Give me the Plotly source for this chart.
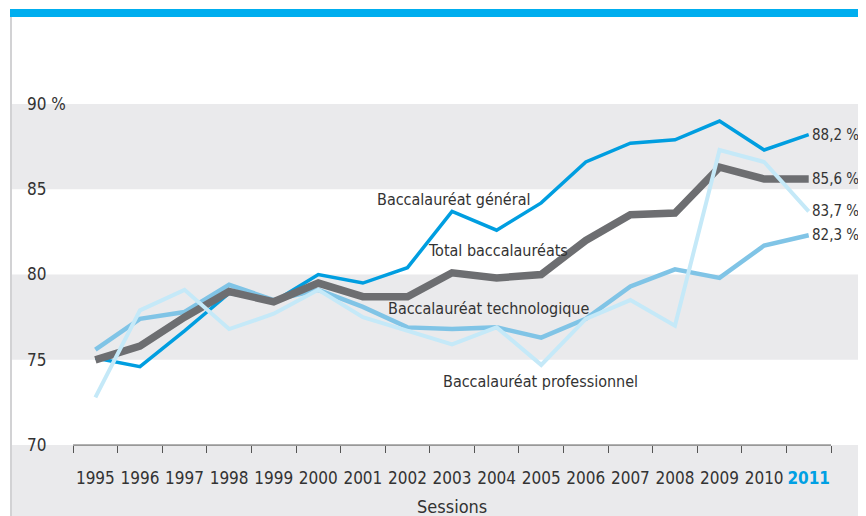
import plotly.graph_objects as go

years = list(range(1995, 2012))
year_labels = [str(y) for y in years[:-1]] + ["<b><span style='color:#00a0e3'>2011</span></b>"]

general = [75.1, 74.6, 76.7, 78.9, 78.4, 80.0, 79.5, 80.4, 83.7, 82.6, 84.2, 86.6, 87.7, 87.9, 89.0, 87.3, 88.2]
techno = [75.6, 77.4, 77.8, 79.4, 78.5, 79.1, 78.1, 76.9, 76.8, 76.9, 76.3, 77.4, 79.3, 80.3, 79.8, 81.7, 82.3]
total = [75.0, 75.8, 77.5, 79.0, 78.4, 79.5, 78.7, 78.7, 80.1, 79.8, 80.0, 82.0, 83.5, 83.6, 86.3, 85.6, 85.6]
pro = [72.8, 77.9, 79.1, 76.8, 77.7, 79.1, 77.5, 76.7, 75.9, 76.9, 74.7, 77.4, 78.5, 77.0, 87.3, 86.6, 83.7]

y_ticks = [70, 75, 80, 85, 90]
y_tick_labels = ["70", "75", "80", "85", "90 %"]
bands = [(85, 90), (75, 80), (60, 70)]
boundaries = [y - 0.5 for y in years] + [years[-1] + 0.5]
x_title = "Sessions"

series_labels = [
    ("Baccalauréat général", 2003.03, 84.37),
    ("Total baccalauréats", 2004.03, 81.38),
    ("Baccalauréat technologique", 2003.82, 77.98),
    ("Baccalauréat professionnel", 2004.99, 73.70),
]

FONT = "DejaVu Sans Condensed, Liberation Sans Narrow, Arial Narrow, sans-serif"
TXT = "#333333"

X0, X1 = 1993.13, 2012.285
Y0, Y1 = 65.84, 95.10
pos70 = (70 - Y0) / (Y1 - Y0)

fig = go.Figure()

series = [
    ("général", general, "#009ee0", 3.5),
    ("technologique", techno, "#80c4e6", 4.5),
    ("total", total, "#6d6e71", 7.5),
    ("professionnel", pro, "#c5e9f8", 4),
]
for name, vals, col, w in series:
    fig.add_trace(go.Scatter(x=years, y=vals, mode="lines", name=name,
                             line=dict(color=col, width=w), hoverinfo="skip"))

# invisible trace to carry the boundary tick axis
fig.add_trace(go.Scatter(x=years, y=total, xaxis="x2", mode="lines",
                         line=dict(width=0), opacity=0, hoverinfo="skip", showlegend=False))

shapes = []
for lo, hi in bands:
    shapes.append(dict(type="rect", xref="x", yref="y", x0=X0 - 5, x1=X1 + 5, y0=lo, y1=hi,
                       fillcolor="#eaeaec", line=dict(width=0), layer="below"))
# axis baseline
shapes.append(dict(type="line", xref="x", yref="y", x0=boundaries[0], x1=boundaries[-1], y0=70, y1=70,
                   line=dict(color="#555555", width=1)))
# top blue bar
shapes.append(dict(type="rect", xref="paper", yref="paper", x0=-2 / 854, x1=1, y0=1, y1=1 + 8 / 499,
                   fillcolor="#00aeef", line=dict(width=0)))
# left grey rule
shapes.append(dict(type="rect", xref="paper", yref="paper", x0=-2 / 854, x1=0, y0=-0.01, y1=1,
                   fillcolor="#d2d2d4", line=dict(width=0)))

annotations = []
for text, ax, ay in series_labels:
    annotations.append(dict(x=ax, y=ay, xref="x", yref="y", text=text, showarrow=False,
                            font=dict(family=FONT, size=16, color=TXT), xanchor="center", yanchor="middle"))
for vals in (general, total, pro, techno):
    v = vals[-1]
    annotations.append(dict(x=years[-1], y=v, xref="x", yref="y",
                            text=f"{v:.1f}".replace(".", ",") + " %", showarrow=False,
                            font=dict(family=FONT, size=15, color=TXT), xanchor="left", xshift=1,
                            yanchor="middle"))
# axis title, centred under the category span
annotations.append(dict(x=(boundaries[0] + boundaries[-1]) / 2, y=0.02, xref="x", yref="paper",
                        text=x_title, showarrow=False, font=dict(family=FONT, size=18, color=TXT),
                        xanchor="center", yanchor="middle"))

fig.update_layout(
    width=858, height=508,
    margin=dict(l=4, r=0, t=9, b=0),
    paper_bgcolor="white", plot_bgcolor="white",
    showlegend=False,
    shapes=shapes, annotations=annotations,
    font=dict(family=FONT, color=TXT),
    xaxis=dict(range=[X0, X1], anchor="free", position=pos70, tickvals=years, ticktext=year_labels,
               ticks="", showgrid=False, zeroline=False, showline=False, automargin=False,
               tickangle=0, tickfont=dict(family=FONT, size=17, color=TXT), ticklabelstandoff=21),
    xaxis2=dict(range=[X0, X1], overlaying="x", anchor="free", position=pos70, side="bottom",
                tickvals=boundaries, ticks="outside", ticklen=7, tickcolor="#555555", tickwidth=1,
                showticklabels=False, showgrid=False, zeroline=False, showline=False, automargin=False),
    yaxis=dict(range=[Y0, Y1], tickvals=y_ticks, ticktext=y_tick_labels, ticklabelposition="inside",
               ticks="", showgrid=False, zeroline=False, showline=False, automargin=False,
               tickfont=dict(family=FONT, size=17, color=TXT), ticklabelstandoff=12),
)

fig.write_html("out.html")
